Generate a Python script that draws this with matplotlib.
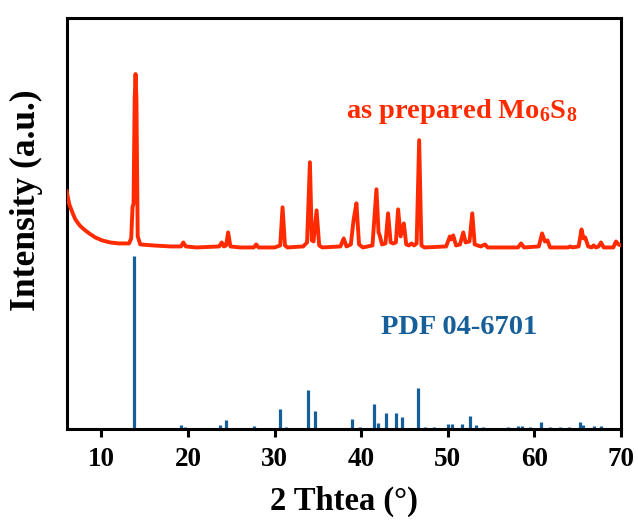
import matplotlib
matplotlib.use("Agg")
import matplotlib.pyplot as plt

plt.rcParams["font.family"] = ["Liberation Serif", "DejaVu Serif"]
plt.rcParams["font.weight"] = "bold"
plt.rcParams["mathtext.fontset"] = "custom"
plt.rcParams["mathtext.rm"] = "Liberation Serif:bold"
plt.rcParams["mathtext.it"] = "Liberation Serif:bold:italic"
plt.rcParams["mathtext.bf"] = "Liberation Serif:bold"
plt.rcParams["mathtext.default"] = "rm"

# measured pattern of the as-prepared sample (2theta, intensity a.u.)
xrd_two_theta = [
    6.0, 6.3, 6.7, 7.0, 7.5, 8.0, 8.6, 9.3, 10.1, 11.0, 12.0, 13.2,
    13.45, 13.6, 13.72, 13.85, 13.95, 14.05, 14.2, 14.5,
    16.0, 18.0, 19.2, 19.46, 19.75, 21.0, 23.6, 23.9, 24.15, 24.4, 24.64, 24.9,
    26.0, 27.6, 27.88, 28.15, 30.0, 30.65, 30.92, 31.2, 31.5,
    33.3, 33.75, 34.08, 34.3, 34.5, 34.85, 35.15, 35.5,
    37.6, 37.98, 38.3, 38.8, 39.13, 39.45, 39.75, 40.2,
    41.3, 41.76, 42.0, 42.14, 42.4, 42.8, 43.1, 43.4, 43.7,
    44.0, 44.26, 44.55, 44.92, 45.2, 45.5, 45.8, 46.1, 46.4, 46.69, 46.95, 47.3,
    49.8, 50.24, 50.42, 50.62, 50.95, 51.4, 51.78, 52.05, 52.5, 52.82, 53.1,
    53.8, 54.29, 54.6, 58.1, 58.45, 58.8, 60.5, 60.88, 61.2, 61.5, 61.8,
    63.9, 64.12, 64.4, 65.1, 65.43, 65.65, 65.86, 66.2, 66.6, 66.82, 67.1,
    67.4, 67.68, 68.0, 69.1, 69.41, 69.7, 70.0,
]
xrd_intensity = [
    237, 224, 215, 209, 203, 199, 195, 191, 188, 186, 185, 185,
    190, 221, 225, 330, 354, 330, 192, 184,
    183, 182, 182, 186, 182, 181, 182, 186, 182, 183, 196, 182,
    181, 181, 184, 181, 181, 183, 221, 183, 181,
    182, 186, 266, 188, 187, 218, 183, 181,
    182, 190, 182, 184, 209, 225, 184, 181,
    183, 239, 196, 193, 184, 185, 215, 186, 185,
    186, 219, 192, 205, 184, 183, 185, 183, 185, 288, 183, 181,
    182, 192, 189, 193, 183, 184, 196, 186, 187, 215, 184,
    182, 184, 181, 181, 185, 181, 182, 195, 187, 188, 181,
    181, 182, 181, 182, 199, 190, 191, 182, 181, 183, 181,
    182, 186, 181, 181, 187, 184, 183,
]

# reference card PDF 04-6701 (stick positions and relative heights)
pdf_two_theta = [
    13.8, 19.23, 19.7, 23.7, 24.44, 27.64, 30.65, 31.27, 33.85, 34.7,
    38.98, 39.9, 41.48, 41.95, 42.9, 44.07, 44.72, 46.58, 47.35, 48.43,
    50.05, 50.44, 51.6, 52.56, 53.25, 54.1, 57.0, 58.14, 58.6, 59.5,
    60.73, 61.8, 62.97, 63.93, 65.2, 65.6, 66.82, 67.7,
]
pdf_intensity = [
    172, 4, 2, 4, 9, 3, 20, 2, 39, 18,
    10, 2, 25, 6, 16, 16, 12, 41, 2, 2,
    5, 5, 5, 13, 4, 2, 2, 3, 3, 2,
    7, 2, 2, 2, 7, 4, 3, 3,
]

x_ticks = [10, 20, 30, 40, 50, 60, 70]

RED = "#ff2a00"
BLUE = "#175f98"

fig = plt.figure(figsize=(6.38, 5.25), dpi=100)
ax = fig.add_axes([0.1045, 0.183, 0.869, 0.783])

ax.plot(xrd_two_theta, xrd_intensity, color=RED, linewidth=2.8,
        solid_joinstyle="round", zorder=3)
ax.vlines(pdf_two_theta, 0, pdf_intensity, color=BLUE, linewidth=2.3, zorder=2)

ax.text(38.3, 310, "as prepared Mo$_6$S$_8$", color=RED, fontsize=20.5,
        fontweight="bold", ha="left", va="baseline")
ax.text(42.3, 95, "PDF 04-6701", color=BLUE, fontsize=20.5,
        fontweight="bold", ha="left", va="baseline")

ax.set_xlim(6, 70)
ax.set_ylim(0, 410)
ax.set_xticks(x_ticks)
ax.set_yticks([])
ax.tick_params(axis="x", direction="out", length=6, width=2.2, labelsize=19.5, pad=7)
for lbl in ax.get_xticklabels():
    lbl.set_fontweight("bold")
for sp in ax.spines.values():
    sp.set_linewidth(2.2)

ax.set_xlabel("2 Thtea (°)", fontsize=23.5, fontweight="bold", labelpad=10)
ax.set_ylabel("Intensity (a.u.)", fontsize=25.5, fontweight="bold")
# label sits a little above the axis centre
ax.yaxis.set_label_coords(-0.043, 0.556)

fig.savefig("out.png", dpi=100)
